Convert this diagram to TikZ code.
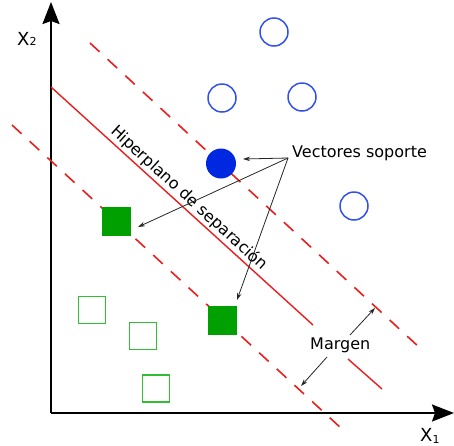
\documentclass[tikz,border=0pt]{standalone}
\usepackage{fontspec}
\setmainfont{DejaVu Sans}
\usetikzlibrary{arrows.meta}
\definecolor{redline}{RGB}{235,30,30}
\definecolor{bluefill}{RGB}{0,40,225}
\definecolor{blueline}{RGB}{50,80,235}
\definecolor{greenfill}{RGB}{0,160,0}
\definecolor{greenline}{RGB}{50,190,50}
\begin{document}
\begin{tikzpicture}[x=1pt,y=-1pt,
  axis/.style={line width=2pt,-{Stealth[length=22pt,width=17pt,inset=3pt]}},
  sepline/.style={redline,line width=1.4pt},
  marginline/.style={redline,line width=1.6pt,dash pattern=on 13pt off 11pt},
  openpt/.style={circle,draw=blueline,line width=1.5pt,minimum size=28pt,inner sep=0pt},
  suppvec/.style={circle,fill=bluefill,minimum size=30pt,inner sep=0pt},
  opensq/.style={draw=greenline,line width=1.5pt,minimum size=27pt,inner sep=0pt},
  fillsq/.style={fill=greenfill,minimum size=29pt,inner sep=0pt},
  ptr/.style={black!85,line width=0.8pt,-{Stealth[length=7pt,width=4.5pt]}},
  lbl/.style={font=\fontsize{16}{19}\selectfont,inner sep=0pt},
  axlbl/.style={font=\fontsize{18}{20}\selectfont,inner sep=0pt}]
\useasboundingbox (0,0) rectangle (454,445);
% axes
\coordinate (O) at (51,413);
\coordinate (ytip) at (51,2);
\coordinate (xtip) at (454,413);
\draw[axis] (O) -- (ytip);
\draw[axis] (O) -- (xtip);
\node[axlbl,anchor=base west] (x2) at (17,45) {X{\fontsize{11}{12}\selectfont 2}};
\node[axlbl,anchor=base west] (x1) at (420,441) {X\raisebox{-2pt}{\fontsize{11}{12}\selectfont 1}};
% separating hyperplane and margins
\coordinate (s1) at (51,87);
\coordinate (s2) at (313,325);
\coordinate (s3) at (348,359);
\coordinate (s4) at (382,389);
\draw[sepline] (s1) -- (s2);
\draw[sepline] (s3) -- (s4);
\coordinate (u1) at (90,43);
\coordinate (u2) at (420,348);
\draw[marginline] (u1) -- (u2);
\coordinate (l1) at (12,125);
\coordinate (l2) at (342,429);
\draw[marginline] (l1) -- (l2);
% points
\node[openpt] (c1) at (274,32) {};
\node[openpt] (c2) at (222,98) {};
\node[openpt] (c3) at (302,97) {};
\node[openpt] (c4) at (354,206) {};
\node[suppvec] (sv1) at (221,163.5) {};
\node[fillsq] (sv2) at (116.5,221.5) {};
\node[fillsq] (sv3) at (222,320) {};
\node[opensq] (q1) at (92,310) {};
\node[opensq] (q2) at (143,336) {};
\node[opensq] (q3) at (156,388.5) {};
% labels
\node[lbl,anchor=center,rotate=-42.4] (hip) at (189,198) {Hiperplano de separación};
\node[lbl,anchor=base west] (vs) at (292,157) {Vectores soporte};
\node[lbl,anchor=base west] (mg) at (310,349) {Margen};
% pointers
\coordinate (apex) at (288,158);
\coordinate (t1) at (243,159);
\coordinate (t2) at (138,227);
\coordinate (t3) at (237,300);
\draw[ptr] (apex) -- (t1);
\draw[ptr] (apex) -- (t2);
\draw[ptr] (apex) -- (t3);
\coordinate (m1a) at (350,335);
\coordinate (m1b) at (375,308);
\coordinate (m2a) at (327,357);
\coordinate (m2b) at (301,386);
\draw[ptr] (m1a) -- (m1b);
\draw[ptr] (m2a) -- (m2b);
\end{tikzpicture}
\end{document}
